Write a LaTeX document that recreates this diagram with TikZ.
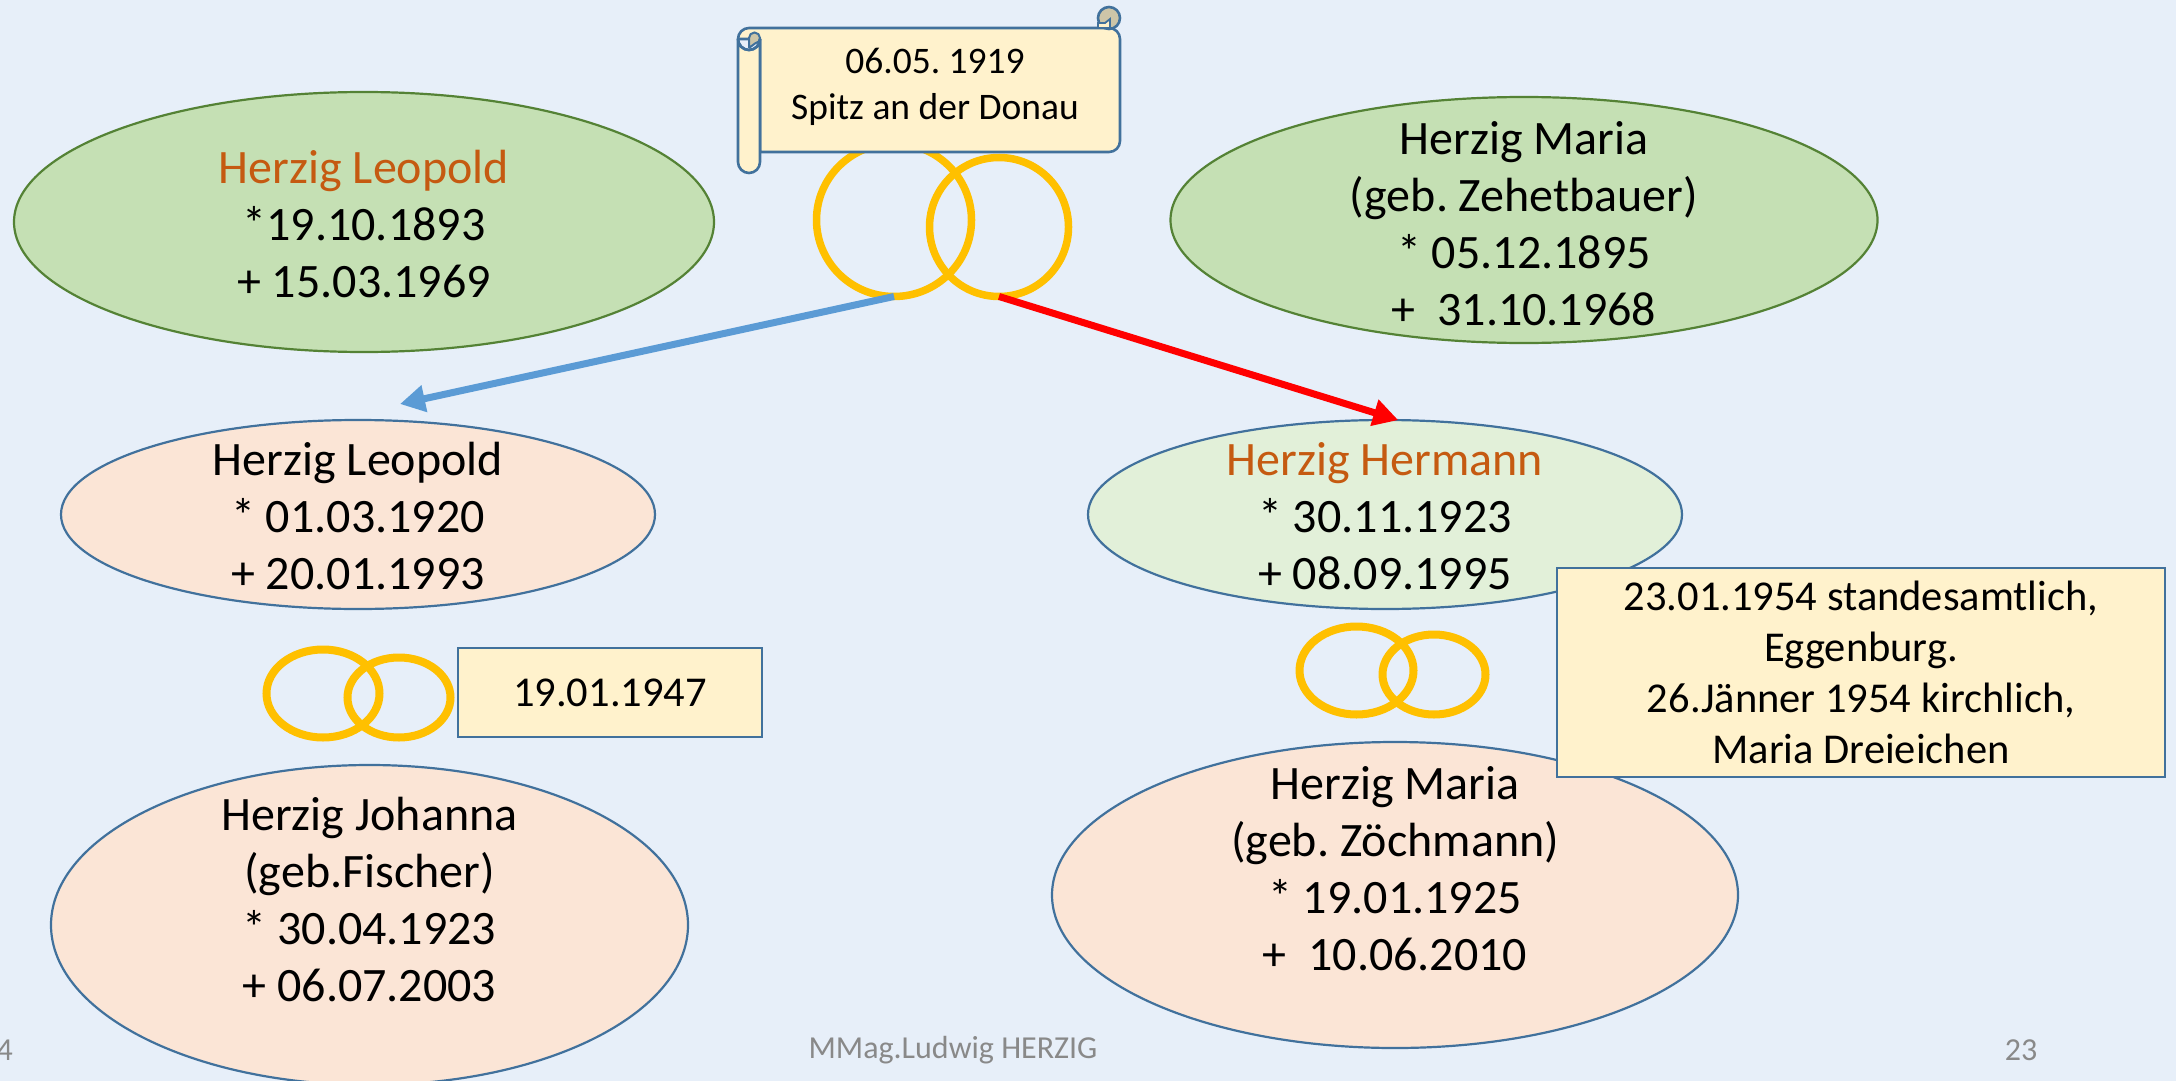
\documentclass[tikz,border=0pt]{standalone}
\usepackage{fontspec}
\setmainfont{Carlito}
\usetikzlibrary{shapes.geometric,arrows.meta}
\definecolor{bgc}{HTML}{E7EFF9}
\definecolor{greenf}{HTML}{C5E0B4}
\definecolor{greend}{HTML}{548235}
\definecolor{peach}{HTML}{FBE5D6}
\definecolor{lgreen}{HTML}{E2F0D9}
\definecolor{edgeb}{HTML}{41719C}
\definecolor{notef}{HTML}{FFF2CC}
\definecolor{ringc}{HTML}{FFC000}
\definecolor{bluea}{HTML}{5B9BD5}
\definecolor{namec}{HTML}{C55A11}
\definecolor{footc}{HTML}{898989}
\definecolor{curl}{HTML}{CDC5A8}
\newcommand{\person}[2]{\raisebox{#1}[0pt][0pt]{\makebox[0pt]{\begin{tabular}{@{}c@{}}#2\end{tabular}}}}
\tikzset{
 personshape/.style={ellipse,inner sep=0pt,outer sep=0pt,line width=2.2pt,font=\fontsize{48}{57}\selectfont\frenchspacing},
 parent/.style={personshape,draw=greend,fill=greenf},
 spouse/.style={personshape,draw=edgeb,fill=peach},
 child/.style={personshape,draw=edgeb,fill=lgreen},
 ring/.style={ellipse,inner sep=0pt,outer sep=0pt,draw=ringc,line width=7.5pt},
 smallring/.style={ring,line width=8pt},
 notebox/.style={rectangle,draw=edgeb,fill=notef,line width=2.6pt,inner sep=0pt,outer sep=0pt,align=center},
 arrowline/.style={line width=7pt,-{Triangle[length=25pt,width=26pt]}},
 foot/.style={font=\fontsize{32}{38}\selectfont,text=footc,inner sep=0pt}
}
\begin{document}
\begin{tikzpicture}[x=1pt,y=-1pt]
\useasboundingbox (0,0) rectangle (2176,1081);
\clip (0,0) rectangle (2176,1081);
\fill[bgc] (0,0) rectangle (2176,1081);
% footer
\node[foot,anchor=east] (fa) at (13,1050) {4};
\node[foot] (fb) at (953,1050) {MMag.Ludwig HERZIG};
\node[foot] (fc) at (2021,1050) {23};
% parents
\node[parent,minimum width=700pt,minimum height=260pt] (leo) at (364,222) {\person{-13pt}{\textcolor{namec}{Herzig Leopold}\\{}*19.10.1893\\+ 15.03.1969}};
\node[parent,minimum width=707pt,minimum height=246pt] (maria) at (1524,220) {\person{-14.5pt}{Herzig Maria\\(geb. Zehetbauer)\\{}* 05.12.1895\\+~~31.10.1968}};
% rings top
\node[ring,minimum width=155pt,minimum height=153pt] (r1) at (894,220) {};
\node[ring,minimum width=139pt,minimum height=139pt] (r2) at (999,227) {};
% scroll
\draw[draw=edgeb,fill=notef,line width=2.6pt,line join=round]
 (760,152) -- (760,39) -- (738,39) arc[start angle=180,end angle=270,radius=11] -- (1109,28)
 arc[start angle=270,end angle=360,radius=11] -- (1120,141)
 arc[start angle=0,end angle=90,radius=11] -- (760,152);
\draw[draw=edgeb,fill=curl,line width=2.6pt] (1109,18) circle[radius=11];
\draw[draw=edgeb,fill=notef,line width=1.8pt] (1098,28) -- (1098,23) -- (1105,23) -- (1110,19) -- (1110,28) -- cycle;
\draw[draw=edgeb,fill=notef,line width=2.6pt]
 (738,39) -- (738,162) arc[start angle=180,end angle=0,radius=11] -- (760,39)
 arc[start angle=0,end angle=180,radius=11] -- cycle;
\draw[draw=edgeb,fill=curl,line width=2pt] (749,48) -- (749,38) arc[start angle=180,end angle=270,radius=5.5]
 arc[start angle=270,end angle=360,radius=5.5] arc[start angle=0,end angle=85,radius=5.5] -- (749,48);
\draw[draw=edgeb,line width=2.6pt] (738,39) arc[start angle=180,end angle=0,radius=11];
\node[font=\fontsize{37.5}{46}\selectfont\frenchspacing,align=center,inner sep=0pt] (scrolltext) at (935,87) {06.05. 1919\\Spitz an der Donau};
% children
\node[spouse,minimum width=594pt,minimum height=189pt] (leoj) at (358,514.5) {\person{-13pt}{Herzig Leopold\\{}* 01.03.1920\\+ 20.01.1993}};
\node[child,minimum width=594pt,minimum height=189pt] (herm) at (1385,514.5) {\person{-13pt}{\textcolor{namec}{Herzig Hermann}\\{}* 30.11.1923\\+ 08.09.1995}};
% arrows
\coordinate (blueend) at (400,404);
\draw[arrowline,draw=bluea,fill=bluea] (r1.south) -- (blueend);
\draw[arrowline,draw=red,fill=red] (r2.south) -- (herm.82);
% left couple
\node[smallring,minimum width=113pt,minimum height=88pt] (r3) at (323,693.5) {};
\node[smallring,minimum width=103pt,minimum height=80pt] (r4) at (399,697.5) {};
\node[notebox,minimum width=304pt,minimum height=89pt,font=\fontsize{42.5}{48}\selectfont] (d1) at (610,692.5) {19.01.1947};
\node[spouse,minimum width=637pt,minimum height=320pt] (joh) at (369.5,925) {\person{14pt}{Herzig Johanna\\(geb.Fischer)\\{}* 30.04.1923\\+ 06.07.2003}};
% right couple
\node[smallring,minimum width=114pt,minimum height=88pt] (r5) at (1356.5,670.5) {};
\node[smallring,minimum width=103pt,minimum height=80pt] (r6) at (1434,674.5) {};
\node[spouse,minimum width=686pt,minimum height=306pt] (marz) at (1395,895) {\person{15pt}{Herzig Maria\\(geb. Zöchmann)\\{}* 19.01.1925\\+~~10.06.2010}};
\node[notebox,minimum width=608pt,minimum height=209pt,font=\fontsize{42.5}{51}\selectfont] (d2) at (1861,672.5) {23.01.1954 standesamtlich,\\Eggenburg.\\26.Jänner 1954 kirchlich,\\Maria Dreieichen};
\end{tikzpicture}
\end{document}
